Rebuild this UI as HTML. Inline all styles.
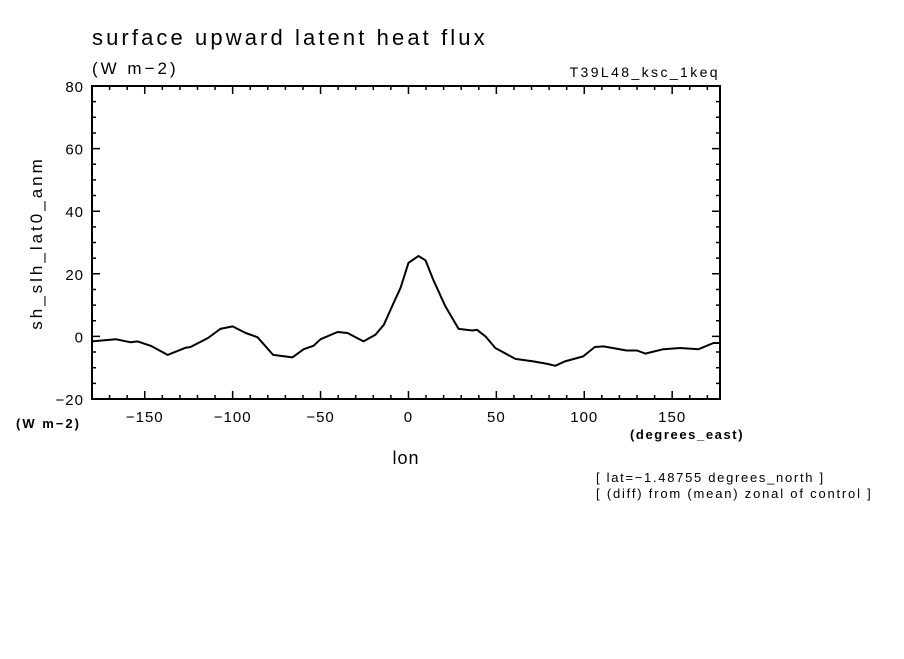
<!DOCTYPE html>
<html><head><meta charset="utf-8"><style>
body{margin:0;background:#fff;}
svg text{font-family:"Liberation Sans",sans-serif;fill:#000;}
</style></head><body>
<svg id="chart" width="904" height="654" viewBox="0 0 904 654" xmlns="http://www.w3.org/2000/svg">
<rect width="904" height="654" fill="#fff"/>
<text x="92" y="45" font-size="22" letter-spacing="3.1">surface upward latent heat flux</text>
<text x="92" y="74" font-size="17" letter-spacing="3">(W m−2)</text>
<text x="720" y="77" font-size="14" text-anchor="end" letter-spacing="2.4">T39L48_ksc_1keq</text>
<text transform="translate(42,243) rotate(-90)" font-size="17" text-anchor="middle" letter-spacing="3">sh_slh_lat0_anm</text>
<text x="16" y="428" font-size="13" font-weight="bold" letter-spacing="2">(W m−2)</text>
<text x="630" y="439" font-size="13" font-weight="bold" letter-spacing="1.6">(degrees_east)</text>
<text x="406" y="464" font-size="18" text-anchor="middle" letter-spacing="1">lon</text>
<text x="596" y="482" font-size="13" letter-spacing="1.7">[ lat=−1.48755 degrees_north ]</text>
<text x="596" y="498" font-size="13" letter-spacing="1.8">[ (diff) from (mean) zonal of control ]</text>
<g id="axes"></g>
<g id="series"></g>
</svg>
<script>
const lons = [-180,-166.5,-158,-154,-146.6,-137,-126.7,-124,-114,-107,-100,-92.6,-85.8,-77,-66,-59.6,-54,-50,-40.3,-34.7,-25.6,-18.8,-14,-8.5,-4.5,0,5.7,9.7,14.2,21,28.5,36.4,39,43.8,49.4,60.8,71,79,83.5,89,99.4,106,111,124,130,134.7,145,154.5,165,173.5,177.2];
const values = [-1.6,-0.9,-1.9,-1.6,-3,-5.9,-3.6,-3.4,-0.5,2.4,3.2,1.1,-0.3,-5.9,-6.7,-4.1,-3,-0.9,1.4,1.1,-1.6,0.5,3.7,10.6,15.5,23.5,25.7,24.3,18,9.6,2.4,1.9,2.1,0,-3.7,-7.2,-8,-8.8,-9.4,-8,-6.4,-3.4,-3.2,-4.5,-4.5,-5.5,-4.1,-3.7,-4.1,-2.1,-2.1];
const xTicks = [-150,-100,-50,0,50,100,150];
const yTicks = [-20,0,20,40,60,80];
const X0=92,X1=720,Y0=86,Y1=399, LMIN=-180,LMAX=177.2, VMIN=-20,VMAX=80;
const xs = v => X0 + (v-LMIN)/(LMAX-LMIN)*(X1-X0);
const ys = v => Y1 - (v-VMIN)/(VMAX-VMIN)*(Y1-Y0);
const NS='http://www.w3.org/2000/svg';
const axes=document.getElementById('axes'), ser=document.getElementById('series');
function mk(tag,attrs,parent){const e=document.createElementNS(NS,tag);for(const k in attrs)e.setAttribute(k,attrs[k]);parent.appendChild(e);return e;}
const frame=mk('rect',{x:X0,y:Y0,width:X1-X0,height:Y1-Y0,fill:'none',stroke:'#000','stroke-width':2},axes);


let d='';
for(let v=-170;v<=170;v+=10){const x=xs(v);const L=(v%50===0)?8:4;
 d+=`M${x},${Y1}v${-L}M${x},${Y0}v${L}`;}
for(let v=-20;v<=80;v+=5){const y=ys(v);const L=(v%20===0)?8:4;
 d+=`M${X0},${y}h${L}M${X1},${y}h${-L}`;}
const tk=mk('path',{d:d,stroke:'#000','stroke-width':1.5,fill:'none'},axes);


xTicks.forEach(v=>{const t=mk('text',{x:xs(v),y:Y1+23,'font-size':15,'text-anchor':'middle','letter-spacing':1},axes);t.textContent=String(v).replace('-','−');
 
 });
yTicks.forEach(v=>{const t=mk('text',{x:X0-8,y:ys(v)+6,'font-size':15,'text-anchor':'end','letter-spacing':1},axes);t.textContent=String(v).replace('-','−');
 
 });
const pts=lons.map((l,i)=>xs(l).toFixed(1)+','+ys(values[i]).toFixed(1)).join(' ');
const line=mk('polyline',{points:pts,fill:'none',stroke:'#000','stroke-width':2,'stroke-linejoin':'round'},ser);


</script>
</body></html>
